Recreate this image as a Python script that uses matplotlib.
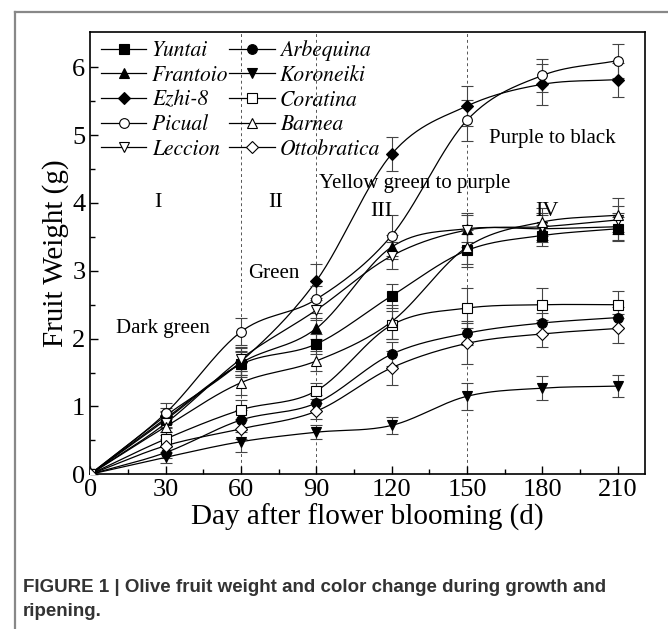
import numpy as np
import matplotlib
matplotlib.use('Agg')
import matplotlib.pyplot as plt
from matplotlib.lines import Line2D

plt.rcParams['font.family'] = ['Liberation Serif', 'DejaVu Serif']

days = [0, 30, 60, 90, 120, 150, 180, 210]

yuntai = [0, 0.82, 1.62, 1.92, 2.63, 3.30, 3.52, 3.62]
arbequina = [0, 0.32, 0.80, 1.05, 1.77, 2.08, 2.23, 2.31]
frantoio = [0, 0.80, 1.64, 2.15, 3.35, 3.62, 3.62, 3.65]
koroneiki = [0, 0.25, 0.48, 0.62, 0.72, 1.15, 1.27, 1.30]
ezhi8 = [0, 0.86, 1.66, 2.85, 4.72, 5.43, 5.75, 5.82]
coratina = [0, 0.52, 0.95, 1.23, 2.20, 2.45, 2.50, 2.50]
picual = [0, 0.90, 2.10, 2.58, 3.52, 5.22, 5.88, 6.10]
barnea = [0, 0.70, 1.35, 1.67, 2.25, 3.35, 3.72, 3.82]
leccion = [0, 0.75, 1.70, 2.42, 3.22, 3.60, 3.65, 3.75]
ottobratica = [0, 0.42, 0.67, 0.93, 1.57, 1.93, 2.07, 2.15]

err_yuntai = [0, 0.12, 0.18, 0.15, 0.18, 0.25, 0.15, 0.18]
err_arbequina = [0, 0.08, 0.15, 0.12, 0.18, 0.18, 0.15, 0.15]
err_frantoio = [0, 0.12, 0.18, 0.15, 0.18, 0.20, 0.20, 0.20]
err_koroneiki = [0, 0.08, 0.15, 0.10, 0.12, 0.20, 0.18, 0.16]
err_ezhi8 = [0, 0.12, 0.20, 0.25, 0.25, 0.30, 0.30, 0.25]
err_coratina = [0, 0.10, 0.15, 0.12, 0.20, 0.30, 0.25, 0.20]
err_picual = [0, 0.15, 0.20, 0.20, 0.30, 0.30, 0.25, 0.25]
err_barnea = [0, 0.12, 0.18, 0.15, 0.25, 0.25, 0.20, 0.25]
err_leccion = [0, 0.12, 0.18, 0.15, 0.20, 0.25, 0.20, 0.20]
err_ottobratica = [0, 0.10, 0.15, 0.12, 0.25, 0.30, 0.20, 0.22]

series = [
    ('Yuntai', yuntai, err_yuntai, 's', 'k'),
    ('Frantoio', frantoio, err_frantoio, '^', 'k'),
    ('Ezhi-8', ezhi8, err_ezhi8, 'D', 'k'),
    ('Picual', picual, err_picual, 'o', 'w'),
    ('Leccion', leccion, err_leccion, 'v', 'w'),
    ('Arbequina', arbequina, err_arbequina, 'o', 'k'),
    ('Koroneiki', koroneiki, err_koroneiki, 'v', 'k'),
    ('Coratina', coratina, err_coratina, 's', 'w'),
    ('Barnea', barnea, err_barnea, '^', 'w'),
    ('Ottobratica', ottobratica, err_ottobratica, 'D', 'w'),
]


def smooth(x, y, n=30):
    # catmull-rom style cubic hermite through the points
    x = np.asarray(x, float)
    y = np.asarray(y, float)
    m = np.gradient(y, x)
    xs, ys = [], []
    for i in range(len(x) - 1):
        h = x[i + 1] - x[i]
        t = np.linspace(0, 1, n, endpoint=False)
        h00 = 2 * t**3 - 3 * t**2 + 1
        h10 = t**3 - 2 * t**2 + t
        h01 = -2 * t**3 + 3 * t**2
        h11 = t**3 - t**2
        xs.append(x[i] + t * h)
        ys.append(h00 * y[i] + h10 * h * m[i] + h01 * y[i + 1] + h11 * h * m[i + 1])
    xs.append([x[-1]])
    ys.append([y[-1]])
    return np.concatenate(xs), np.concatenate(ys)


fig = plt.figure(figsize=(6.68, 6.29), dpi=100)
ax = fig.add_axes([0.135, 0.246, 0.831, 0.703])

for xv in [60, 90, 150]:
    ax.axvline(xv, color='#555555', ls=(0, (3, 3)), lw=0.7, zorder=1)

handles = []
for name, vals, err, mk, fc in series:
    sx, sy = smooth(days, vals)
    ax.plot(sx, sy, color='k', lw=0.9, zorder=2)
    ax.errorbar(days[1:], vals[1:], yerr=err[1:], fmt='none', ecolor='#444444',
                elinewidth=0.8, capsize=4, capthick=0.8, zorder=2)
    ms = 6 if mk == 'D' else 7
    ax.plot(days, vals, ls='none', marker=mk, ms=ms, mfc=fc, mec='k', mew=0.8, zorder=3)
    handles.append(Line2D([], [], color='k', lw=0.9, marker=mk, ms=ms, mfc=fc,
                          mec='k', mew=0.8, label=name))

leg = ax.legend(handles=handles, ncol=2, loc='upper left', frameon=False,
                bbox_to_anchor=(-0.015, 1.025), handlelength=2.1, handletextpad=0.25,
                columnspacing=0.05, labelspacing=0.17,
                prop={'family': 'STIXGeneral', 'style': 'italic', 'size': 15.5})

ax.text(27, 4.0, 'I', ha='center', va='center', fontsize=16)
ax.text(74, 4.0, 'II', ha='center', va='center', fontsize=16)
ax.text(116, 3.88, 'III', ha='center', va='center', fontsize=16)
ax.text(182, 3.88, 'IV', ha='center', va='center', fontsize=16)
ax.text(29, 2.15, 'Dark green', ha='center', va='center', fontsize=15)
ax.text(73, 2.96, 'Green', ha='center', va='center', fontsize=15)
ax.text(129, 4.29, 'Yellow green to purple', ha='center', va='center', fontsize=15)
ax.text(184, 4.95, 'Purple to black', ha='center', va='center', fontsize=15)

ax.set_xlim(0, 221)
ax.set_ylim(0, 6.52)
ax.set_xticks(days)
ax.set_xticks(np.arange(15, 221, 30), minor=True)
ax.set_yticks(range(0, 7))
ax.set_yticks(np.arange(0.5, 6.5, 1), minor=True)
ax.tick_params(direction='in', labelsize=19, length=6, width=1, top=False, right=False)
ax.tick_params(which='minor', direction='in', length=3.5, width=1)
for sp in ax.spines.values():
    sp.set_linewidth(1.2)
ax.set_xlabel('Day after flower blooming (d)', fontsize=21, labelpad=2)
ax.set_ylabel('Fruit Weight (g)', fontsize=21, labelpad=2)

# page frame
fig.add_artist(Line2D([0.0225, 1.0], [0.981, 0.981], color='#888888', lw=1.6))
fig.add_artist(Line2D([0.0225, 0.0225], [0.0, 0.981], color='#888888', lw=1.6))

fig.text(0.034, 0.047, 'FIGURE 1 | Olive fruit weight and color change during growth and\nripening.',
         ha='left', va='center', fontsize=13.5, fontweight='bold',
         family=['Liberation Sans', 'DejaVu Sans'], color='#333333', linespacing=1.6)

fig.savefig('out.png', dpi=100)
